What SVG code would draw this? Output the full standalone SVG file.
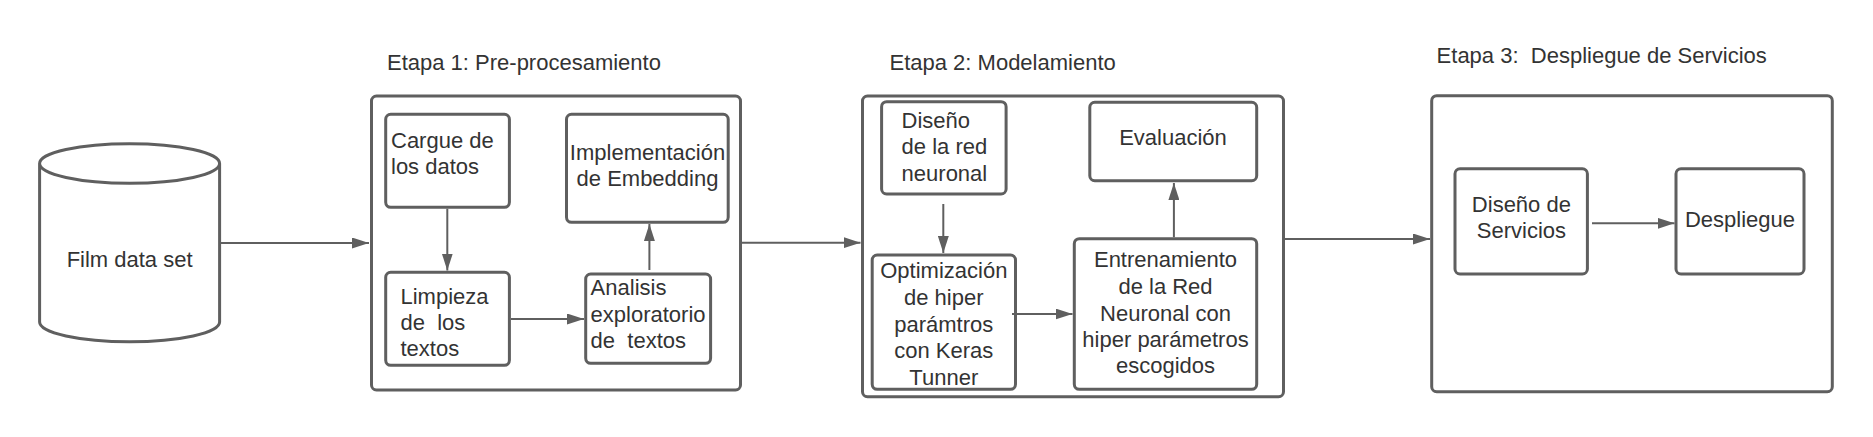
<svg xmlns="http://www.w3.org/2000/svg" width="1873" height="437" viewBox="0 0 1873 437">
<defs>
<style>
.box{fill:#fff;stroke:#5f5f5f;stroke-width:3}
.t{font-family:"Liberation Sans",Arial,sans-serif;font-size:22px;fill:#333}
.c{text-anchor:middle}
.pre{white-space:pre}
.ln{stroke:#5f5f5f;stroke-width:2;fill:none;marker-end:url(#ah)}
</style>
<marker id="ah" markerUnits="userSpaceOnUse" markerWidth="17" markerHeight="11" refX="17" refY="5.5" orient="auto">
<path d="M0,0 L17,5.5 L0,11 z" fill="#5f5f5f"/>
</marker>
</defs>
<rect width="1873" height="437" fill="#fff"/>
<g id="titles">
<text class="t" x="387" y="70">Etapa 1: Pre-procesamiento</text>
<text class="t" x="889.5" y="70">Etapa 2: Modelamiento</text>
<text class="t pre" x="1436.6" y="63.3">Etapa 3:  Despliegue de Servicios</text>
</g>
<g id="film">
<path class="box" d="M39.6,163.5 L39.6,322 A90,19.7 0 0 0 219.6,322 L219.6,163.5 A90,19.7 0 0 0 39.6,163.5 A90,19.7 0 0 0 219.6,163.5"/>
<text class="t c" x="129.6" y="267">Film data set</text>
</g>
<g id="etapa1">
<rect class="box" x="371.5" y="96" width="369" height="294" rx="5"/>
</g>
<g id="etapa2">
<rect class="box" x="862.5" y="96" width="421" height="300.7" rx="5"/>
</g>
<g id="etapa3">
<rect class="box" x="1431.7" y="95.7" width="400.6" height="296" rx="5"/>
</g>
<g id="cargue">
<rect class="box" x="385.7" y="114.3" width="123.7" height="93" rx="5"/>
<text class="t" x="391" y="147.7">Cargue de</text>
<text class="t" x="391" y="174">los datos</text>
</g>
<g id="limpieza">
<rect class="box" x="385.7" y="272.3" width="123.7" height="93" rx="5"/>
<text class="t pre" x="400.5" y="304">Limpieza</text>
<text class="t pre" x="400.5" y="330">de  los</text>
<text class="t pre" x="400.5" y="356">textos</text>
</g>
<g id="implementacion">
<rect class="box" x="566.5" y="114.3" width="161.7" height="108" rx="5"/>
<text class="t c" x="647.5" y="160">Implementación</text>
<text class="t c" x="647.5" y="186">de Embedding</text>
</g>
<g id="analisis">
<rect class="box" x="585.7" y="274" width="124.9" height="89.3" rx="5"/>
<text class="t pre" x="590.6" y="295">Analisis</text>
<text class="t pre" x="590.6" y="321.7">exploratorio</text>
<text class="t pre" x="590.6" y="348.3">de  textos</text>
</g>
<g id="diseno-red">
<rect class="box" x="881.6" y="101.7" width="124.5" height="92.3" rx="5"/>
<text class="t" x="901.6" y="127.7">Diseño</text>
<text class="t" x="901.6" y="154">de la red</text>
<text class="t" x="901.6" y="180.7">neuronal</text>
</g>
<g id="optimizacion">
<rect class="box" x="872.2" y="255" width="143.3" height="134.3" rx="5"/>
<text class="t c" x="943.8" y="278.3">Optimización</text>
<text class="t c" x="943.8" y="305">de hiper</text>
<text class="t c" x="943.8" y="331.7">parámtros</text>
<text class="t c" x="943.8" y="358.3">con Keras</text>
<text class="t c" x="943.8" y="385">Tunner</text>
</g>
<g id="evaluacion">
<rect class="box" x="1089.8" y="102.3" width="166.9" height="78.4" rx="5"/>
<text class="t c" x="1173" y="145">Evaluación</text>
</g>
<g id="entrenamiento">
<rect class="box" x="1074.3" y="238.7" width="182.4" height="150.6" rx="5"/>
<text class="t c" x="1165.5" y="267.3">Entrenamiento</text>
<text class="t c" x="1165.5" y="294">de la Red</text>
<text class="t c" x="1165.5" y="320.7">Neuronal con</text>
<text class="t c" x="1165.5" y="347.3">hiper parámetros</text>
<text class="t c" x="1165.5" y="373.3">escogidos</text>
</g>
<g id="diseno-servicios">
<rect class="box" x="1455" y="168.8" width="132.4" height="105.2" rx="5"/>
<text class="t c" x="1521.4" y="212.3">Diseño de</text>
<text class="t c" x="1521.4" y="238.3">Servicios</text>
</g>
<g id="despliegue">
<rect class="box" x="1676" y="168.8" width="128" height="105.2" rx="5"/>
<text class="t c" x="1740" y="226.7">Despliegue</text>
</g>
<g id="connectors">
<line class="ln" x1="221" y1="243" x2="369" y2="243"/>
<line class="ln" x1="447.3" y1="208.8" x2="447.3" y2="270.5"/>
<line class="ln" x1="511" y1="319" x2="584" y2="319"/>
<line class="ln" x1="649.4" y1="270" x2="649.4" y2="224"/>
<line class="ln" x1="742" y1="242.7" x2="860.5" y2="242.7"/>
<line class="ln" x1="943.3" y1="204" x2="943.3" y2="253"/>
<line class="ln" x1="1012" y1="314" x2="1072.5" y2="314"/>
<line class="ln" x1="1173.9" y1="237.3" x2="1173.9" y2="183"/>
<line class="ln" x1="1285" y1="239" x2="1430" y2="239"/>
<line class="ln" x1="1592" y1="223.3" x2="1674.5" y2="223.3"/>
</g>
</svg>
